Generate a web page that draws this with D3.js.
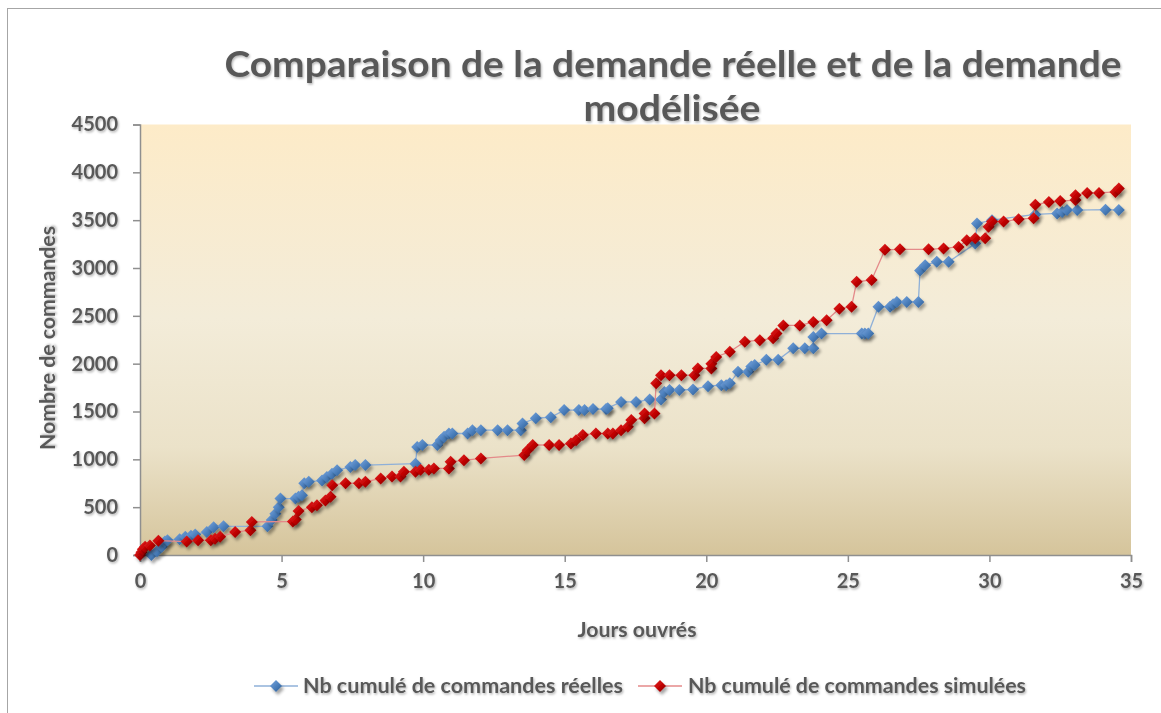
<!DOCTYPE html>
<html>
<head>
<meta charset="utf-8">
<script src="https://cdn.jsdelivr.net/npm/d3@7"></script>
<style>
  body { margin: 0; background: #fff; }
  svg { display: block; }
  text { font-family: Lato, "Open Sans", sans-serif; font-weight: bold; fill: #595959; }
</style>
</head>
<body>
<div id="chart"></div>
<script>
// cumulated real orders [working day, count]
var reelles = [
  [0.4, 0], [0.6, 40], [0.77, 85], [0.88, 140], [0.97, 155],
  [1.4, 165], [1.6, 190], [1.8, 200], [1.95, 215], [2.36, 240], [2.6, 290], [2.95, 300],
  [4.5, 300], [4.65, 365], [4.78, 430], [4.9, 500], [4.96, 590], [5.49, 590],
  [5.6, 610], [5.72, 625], [5.8, 750], [5.96, 765], [6.43, 780], [6.6, 815], [6.78, 850],
  [6.96, 885], [7.43, 920], [7.6, 940], [7.96, 940], [9.73, 955], [9.79, 1130], [9.97, 1150],
  [10.5, 1150], [10.62, 1200], [10.74, 1235], [10.91, 1270], [11.03, 1270], [11.57, 1270],
  [11.74, 1305], [12.04, 1305], [12.63, 1305], [12.98, 1305], [13.45, 1305], [13.51, 1375],
  [13.98, 1430], [14.51, 1440], [14.98, 1515], [15.5, 1515], [15.7, 1515], [16.0, 1525],
  [16.46, 1525], [16.52, 1535], [16.99, 1600], [17.52, 1600], [18.0, 1625], [18.4, 1625],
  [18.52, 1705], [18.7, 1725], [19.05, 1725], [19.53, 1730], [20.06, 1765], [20.53, 1775],
  [20.7, 1775], [20.83, 1795], [21.12, 1915], [21.48, 1915], [21.59, 1970], [21.71, 1985],
  [22.12, 2040], [22.54, 2040], [23.07, 2160], [23.48, 2160], [23.78, 2160], [23.78, 2280],
  [24.07, 2315], [25.49, 2315], [25.6, 2315], [25.72, 2315], [26.08, 2595], [26.49, 2595],
  [26.6, 2620], [26.73, 2645], [27.08, 2645], [27.49, 2645], [27.55, 2975], [27.73, 3030],
  [28.14, 3065], [28.56, 3065], [29.5, 3255], [29.56, 3465], [30.09, 3500], [31.62, 3560],
  [32.39, 3570], [32.57, 3585], [32.74, 3605], [33.1, 3605], [34.1, 3610], [34.57, 3605]
];

// cumulated simulated orders
var simulees = [
  [0, 0], [0.05, 30], [0.1, 60], [0.18, 85], [0.35, 100], [0.65, 150],
  [1.65, 140], [2.05, 155], [2.5, 155], [2.65, 170], [2.83, 190], [3.36, 240], [3.9, 260],
  [3.95, 345], [5.4, 350], [5.5, 370], [5.6, 460], [6.07, 500], [6.25, 520], [6.55, 570],
  [6.73, 610], [6.79, 730], [7.26, 750], [7.73, 750], [7.96, 765], [8.5, 800], [8.9, 820],
  [9.2, 820], [9.32, 870], [9.73, 870], [9.91, 890], [10.2, 890], [10.38, 905], [10.91, 905],
  [10.97, 975], [11.44, 990], [12.04, 1010], [13.57, 1045], [13.69, 1095], [13.87, 1150],
  [14.45, 1150], [14.8, 1150], [15.22, 1165], [15.4, 1200], [15.64, 1255], [16.1, 1270],
  [16.52, 1270], [16.7, 1270], [16.99, 1305], [17.23, 1340], [17.35, 1410], [17.82, 1430],
  [17.82, 1480], [18.17, 1480], [18.23, 1795], [18.4, 1880], [18.7, 1880], [19.12, 1880],
  [19.58, 1880], [19.7, 1950], [20.18, 1950], [20.18, 2000], [20.35, 2070], [20.83, 2125],
  [21.36, 2230], [21.89, 2245], [22.36, 2265], [22.48, 2315], [22.72, 2400], [23.3, 2400],
  [23.78, 2435], [24.25, 2455], [24.7, 2575], [25.13, 2595], [25.31, 2855], [25.84, 2875],
  [26.31, 3190], [26.84, 3195], [27.85, 3195], [28.38, 3205], [28.91, 3220], [29.2, 3290],
  [29.5, 3310], [29.85, 3310], [29.97, 3430], [30.09, 3485], [30.5, 3485], [31.03, 3510],
  [31.56, 3520], [31.62, 3660], [32.1, 3690], [32.5, 3700], [33.04, 3710], [33.04, 3760],
  [33.45, 3785], [33.87, 3785], [34.45, 3795], [34.57, 3830]
];

var xTicks = [0, 5, 10, 15, 20, 25, 30, 35];
var yTicks = [0, 500, 1000, 1500, 2000, 2500, 3000, 3500, 4000, 4500];
var seriesNames = ["Nb cumulé de commandes réelles", "Nb cumulé de commandes simulées"];

var width = 1161, height = 713;
var margin = { top: 124.5, right: 30, bottom: 158, left: 140 };
var innerW = 991, innerH = height - margin.top - margin.bottom;

var svg = d3.select("#chart").append("svg")
  .attr("width", width)
  .attr("height", height);

var defs = svg.append("defs");

var bg = defs.append("linearGradient").attr("id", "plotBg")
  .attr("x1", 0).attr("y1", 0).attr("x2", 0).attr("y2", 1);
bg.append("stop").attr("offset", "0%").attr("stop-color", "#fdebc8");
bg.append("stop").attr("offset", "45%").attr("stop-color", "#f3ecd9");
bg.append("stop").attr("offset", "75%").attr("stop-color", "#ebe2c9");
bg.append("stop").attr("offset", "100%").attr("stop-color", "#d5c49b");

var gBlue = defs.append("linearGradient").attr("id", "gBlue")
  .attr("x1", 0).attr("y1", 0).attr("x2", 1).attr("y2", 1);
gBlue.append("stop").attr("offset", "0%").attr("stop-color", "#7aa7e0");
gBlue.append("stop").attr("offset", "55%").attr("stop-color", "#4a7ebb");
gBlue.append("stop").attr("offset", "100%").attr("stop-color", "#2d5a8e");

var gRed = defs.append("linearGradient").attr("id", "gRed")
  .attr("x1", 0).attr("y1", 0).attr("x2", 1).attr("y2", 1);
gRed.append("stop").attr("offset", "0%").attr("stop-color", "#e82a2a");
gRed.append("stop").attr("offset", "55%").attr("stop-color", "#c00000");
gRed.append("stop").attr("offset", "100%").attr("stop-color", "#7a0000");

var sh = defs.append("filter").attr("id", "shadow")
  .attr("x", "-50%").attr("y", "-50%").attr("width", "200%").attr("height", "200%");
sh.append("feDropShadow").attr("dx", 2).attr("dy", 3).attr("stdDeviation", 1.5)
  .attr("flood-color", "#000").attr("flood-opacity", 0.35);

var tsh = defs.append("filter").attr("id", "tshadow")
  .attr("x", "-10%").attr("y", "-30%").attr("width", "120%").attr("height", "160%");
tsh.append("feDropShadow").attr("dx", 1).attr("dy", 1.5).attr("stdDeviation", 1)
  .attr("flood-color", "#000").attr("flood-opacity", 0.3);

// outer chart border
svg.append("rect")
  .attr("x", 7.5).attr("y", 8.5).attr("width", 1170).attr("height", 720)
  .attr("fill", "none").attr("stroke", "#a6a6a6");

var x = d3.scaleLinear().domain([0, 35]).range([0, innerW]);
var y = d3.scaleLinear().domain([0, 4500]).range([innerH, 0]);

var g = svg.append("g")
  .attr("transform", "translate(" + margin.left + "," + margin.top + ")");

g.append("rect")
  .attr("width", innerW).attr("height", innerH)
  .attr("fill", "url(#plotBg)");

// gridlines
g.append("g").selectAll("line")
  .data(yTicks)
  .enter().append("line")
  .attr("x1", 0).attr("x2", innerW)
  .attr("y1", function (d) { return y(d); })
  .attr("y2", function (d) { return y(d); })
  .attr("stroke", "#8f8f8f").attr("stroke-width", 2)
  .attr("filter", "url(#tshadow)");

// axes
var yAxis = g.append("g")
  .call(d3.axisLeft(y).tickValues(yTicks).tickFormat(d3.format("d")).tickSize(7).tickPadding(15));
var xAxis = g.append("g")
  .attr("transform", "translate(0," + innerH + ")")
  .call(d3.axisBottom(x).tickValues(xTicks).tickSize(7).tickPadding(12));

[xAxis, yAxis].forEach(function (ax) {
  ax.select(".domain").attr("stroke", "#8f8f8f").attr("stroke-width", 1.5);
  ax.selectAll(".tick line").attr("stroke", "#8f8f8f").attr("stroke-width", 1.5);
  ax.selectAll(".tick text")
    .attr("font-size", 20).attr("font-family", "Lato, sans-serif")
    .attr("fill", "#595959").attr("filter", "url(#tshadow)");
});

var line = d3.line()
  .x(function (d) { return x(d[0]); })
  .y(function (d) { return y(d[1]); });

var diamond = "M0,-6L6,0L0,6L-6,0Z";

function drawSeries(data, lineColor, fill) {
  g.append("path")
    .datum(data)
    .attr("d", line)
    .attr("fill", "none")
    .attr("stroke", lineColor)
    .attr("stroke-width", 1.3);
  g.append("g").selectAll("path")
    .data(data)
    .enter().append("path")
    .attr("d", diamond)
    .attr("transform", function (d) { return "translate(" + x(d[0]) + "," + y(d[1]) + ")"; })
    .attr("fill", fill)
    .attr("filter", "url(#shadow)");
}

drawSeries(reelles, "#8fb0d8", "url(#gBlue)");
drawSeries(simulees, "#e48a8a", "url(#gRed)");

// titles
svg.append("text")
  .attr("x", 673).attr("y", 77)
  .attr("text-anchor", "middle")
  .attr("font-size", 36)
  .attr("textLength", 897).attr("lengthAdjust", "spacingAndGlyphs")
  .attr("filter", "url(#tshadow)")
  .text("Comparaison de la demande réelle et de la demande");
svg.append("text")
  .attr("x", 672).attr("y", 121)
  .attr("text-anchor", "middle")
  .attr("font-size", 36)
  .attr("textLength", 177).attr("lengthAdjust", "spacingAndGlyphs")
  .attr("filter", "url(#tshadow)")
  .text("modélisée");

svg.append("text")
  .attr("x", 637).attr("y", 637)
  .attr("text-anchor", "middle")
  .attr("font-size", 20)
  .attr("textLength", 119).attr("lengthAdjust", "spacingAndGlyphs")
  .attr("filter", "url(#tshadow)")
  .text("Jours ouvrés");

svg.append("text")
  .attr("transform", "translate(55,338) rotate(-90)")
  .attr("text-anchor", "middle")
  .attr("font-size", 20)
  .attr("textLength", 224).attr("lengthAdjust", "spacingAndGlyphs")
  .attr("filter", "url(#tshadow)")
  .text("Nombre de commandes");

// legend
var legend = [
  { name: seriesNames[0], x: 254, tx: 303, tw: 320, line: "#8fb0d8", fill: "url(#gBlue)" },
  { name: seriesNames[1], x: 638, tx: 688, tw: 338, line: "#e48a8a", fill: "url(#gRed)" }
];
var lg = svg.append("g").selectAll("g")
  .data(legend)
  .enter().append("g");
lg.append("line")
  .attr("x1", function (d) { return d.x; })
  .attr("x2", function (d) { return d.x + 44; })
  .attr("y1", 686).attr("y2", 686)
  .attr("stroke", function (d) { return d.line; })
  .attr("stroke-width", 1.5);
lg.append("path")
  .attr("d", diamond)
  .attr("transform", function (d) { return "translate(" + (d.x + 22) + ",686)"; })
  .attr("fill", function (d) { return d.fill; })
  .attr("filter", "url(#shadow)");
lg.append("text")
  .attr("x", function (d) { return d.tx; })
  .attr("y", 693)
  .attr("font-size", 20)
  .attr("textLength", function (d) { return d.tw; })
  .attr("lengthAdjust", "spacingAndGlyphs")
  .attr("filter", "url(#tshadow)")
  .text(function (d) { return d.name; });
</script>
</body>
</html>
